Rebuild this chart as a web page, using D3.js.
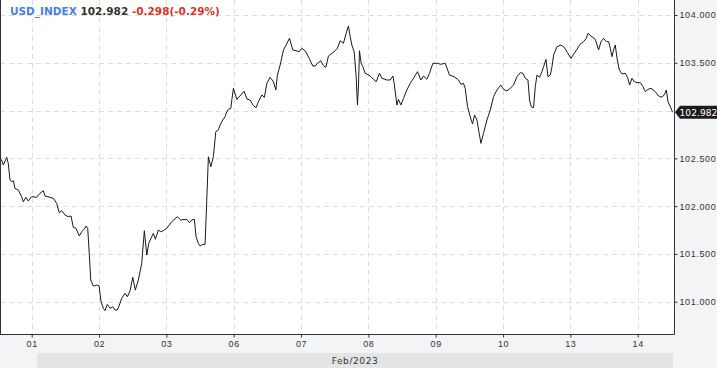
<!DOCTYPE html>
<html>
<head>
<meta charset="utf-8">
<script src="https://cdn.jsdelivr.net/npm/d3@7"></script>
<style>
  html, body { margin: 0; padding: 0; background: #f3f4f6; }
  svg { display: block; font-family: "DejaVu Sans", sans-serif; }
  .axis text { fill: #333; font-size: 9px; letter-spacing: 0.6px; }
</style>
</head>
<body>
<svg id="chart" width="717" height="368"></svg>
<script>
// trading-day index (0 = Feb 01) and index value
const times = [
  -0.471, -0.446, -0.422, -0.371, -0.348, -0.322, -0.297, -0.273, -0.248, -0.199,
  -0.149, -0.125, -0.085, -0.051, 0, 0.074, 0.123, 0.172, 0.198, 0.272,
  0.321, 0.371, 0.410, 0.446, 0.495, 0.544, 0.584, 0.618, 0.658, 0.707,
  0.743, 0.777, 0.807, 0.832, 0.856, 0.877, 0.915, 0.966, 1.000, 1.030,
  1.064, 1.089, 1.123, 1.163, 1.204, 1.238, 1.272, 1.302, 1.337, 1.386,
  1.421, 1.461, 1.501, 1.539, 1.584, 1.634, 1.673, 1.709, 1.739, 1.783,
  1.807, 1.837, 1.881, 1.917, 1.955, 2.006, 2.080, 2.163, 2.214, 2.278,
  2.312, 2.342, 2.377, 2.416, 2.441, 2.475, 2.501, 2.541, 2.575, 2.600,
  2.624, 2.660, 2.698, 2.734, 2.773, 2.798, 2.838, 2.872, 2.898, 2.921,
  2.957, 2.972, 2.996, 3.046, 3.106, 3.155, 3.195, 3.244, 3.293, 3.333,
  3.367, 3.418, 3.456, 3.492, 3.541, 3.590, 3.626, 3.649, 3.690, 3.739,
  3.779, 3.828, 3.878, 3.927, 3.976, 4.012, 4.071, 4.120, 4.175, 4.210,
  4.244, 4.294, 4.333, 4.369, 4.407, 4.458, 4.507, 4.541, 4.581, 4.630,
  4.670, 4.704, 4.730, 4.755, 4.789, 4.819, 4.838, 4.853, 4.868, 4.893,
  4.918, 4.953, 5.027, 5.076, 5.116, 5.165, 5.201, 5.275, 5.324, 5.364,
  5.383, 5.424, 5.447, 5.483, 5.522, 5.572, 5.621, 5.670, 5.730, 5.780,
  5.819, 5.869, 5.908, 5.958, 6.018, 6.077, 6.141, 6.205, 6.275, 6.339,
  6.374, 6.413, 6.438, 6.473, 6.513, 6.547, 6.577, 6.612, 6.646, 6.672,
  6.710, 6.761, 6.810, 6.859, 6.909, 6.969, 7.008, 7.058, 7.107, 7.156,
  7.207, 7.256, 7.296, 7.330, 7.370, 7.394, 7.419, 7.453, 7.479, 7.504,
  7.542, 7.578, 7.602, 7.638, 7.667, 7.702, 7.727, 7.751, 7.801, 7.860,
  7.909, 7.958, 8.009, 8.048, 8.098, 8.147, 8.196, 8.236, 8.262, 8.306,
  8.370, 8.419, 8.455, 8.493, 8.534, 8.568, 8.593, 8.618, 8.642, 8.667,
  8.693, 8.727, 8.767, 8.816, 8.850, 8.880, 8.915, 8.950, 8.990, 9.039,
  9.079, 9.113, 9.153, 9.198, 9.262, 9.311, 9.361, 9.400, 9.425, 9.450,
  9.485, 9.510, 9.514
];
const values = [
  102.500, 102.483, 102.430, 102.511, 102.448, 102.273, 102.256, 102.266, 102.186, 102.169,
  102.099, 102.046, 102.092, 102.054, 102.099, 102.092, 102.134, 102.161, 102.106, 102.092,
  102.082, 102.029, 101.931, 101.952, 101.907, 101.889, 101.897, 101.778, 101.768, 101.687,
  101.732, 101.757, 101.792, 101.768, 101.488, 101.227, 101.164, 101.174, 101.167, 101.000,
  100.931, 100.906, 100.972, 100.931, 100.947, 100.913, 100.913, 100.965, 101.035, 101.088,
  101.052, 101.115, 101.255, 101.122, 101.227, 101.402, 101.743, 101.488, 101.611, 101.680,
  101.715, 101.653, 101.750, 101.732, 101.743, 101.768, 101.837, 101.889, 101.855, 101.862,
  101.855, 101.826, 101.855, 101.862, 101.680, 101.611, 101.583, 101.600, 101.600, 102.064,
  102.517, 102.412, 102.517, 102.779, 102.797, 102.849, 102.901, 102.936, 102.988, 103.013,
  103.024, 103.110, 103.233, 103.118, 103.163, 103.202, 103.121, 103.110, 103.051, 103.030,
  103.093, 103.163, 103.139, 103.285, 103.348, 103.302, 103.215, 103.372, 103.477, 103.634,
  103.686, 103.756, 103.634, 103.626, 103.616, 103.652, 103.616, 103.547, 103.466, 103.466,
  103.495, 103.522, 103.469, 103.453, 103.571, 103.599, 103.626, 103.652, 103.731, 103.704,
  103.808, 103.885, 103.773, 103.686, 103.616, 103.354, 103.058, 103.267, 103.626, 103.495,
  103.459, 103.390, 103.362, 103.327, 103.302, 103.390, 103.338, 103.320, 103.320, 103.362,
  103.285, 103.058, 103.118, 103.058, 103.128, 103.215, 103.285, 103.338, 103.407, 103.320,
  103.362, 103.327, 103.390, 103.495, 103.495, 103.484, 103.495, 103.372, 103.354, 103.320,
  103.275, 103.285, 103.233, 103.040, 102.936, 102.859, 102.954, 102.901, 102.762, 102.657,
  102.762, 102.901, 103.006, 103.145, 103.215, 103.267, 103.222, 103.205, 103.233, 103.267,
  103.354, 103.396, 103.390, 103.338, 103.320, 103.110, 103.040, 103.030, 103.250, 103.372,
  103.348, 103.407, 103.459, 103.536, 103.354, 103.372, 103.459, 103.581, 103.668, 103.686,
  103.662, 103.605, 103.547, 103.589, 103.641, 103.697, 103.721, 103.756, 103.808, 103.780,
  103.746, 103.634, 103.721, 103.756, 103.721, 103.721, 103.652, 103.564, 103.634, 103.686,
  103.547, 103.424, 103.383, 103.390, 103.348, 103.267, 103.338, 103.302, 103.292, 103.292,
  103.250, 103.197, 103.222, 103.233, 103.197, 103.152, 103.139, 103.173, 103.215, 103.093,
  103.040, 102.999, 102.982
];
const dayLabels = ['01', '02', '03', '06', '07', '08', '09', '10', '13', '14'];
const gridTicks = [101.0, 101.5, 102.0, 102.5, 103.0, 103.5, 104.0];
const priceTicks = [101.0, 101.5, 102.0, 102.5, 103.5, 104.0]; // 103.000 sits under the price tag
const symbol = 'USD_INDEX';
const lastPrice = 102.982;
const change = -0.298;
const changePct = -0.29;
const monthLabel = 'Feb/2023';

const plot = { l: 0, t: 0, r: 674, b: 334 };

const svg = d3.select('#chart');
const x = d3.scaleLinear().domain([0, 9]).range([31.7, 637.7]);
const y = d3.scaleLinear().domain([101, 104]).range([301.7, 15]);

// plot background
svg.append('rect').attr('x', plot.l).attr('y', plot.t)
  .attr('width', plot.r - plot.l).attr('height', plot.b - plot.t).attr('fill', '#fff');

// grid
const grid = svg.append('g').attr('stroke', '#dedede').attr('stroke-dasharray', '5,4');
grid.selectAll('line.v').data(d3.range(dayLabels.length)).join('line')
  .attr('x1', d => Math.round(x(d)) + 0.5).attr('x2', d => Math.round(x(d)) + 0.5)
  .attr('y1', plot.t).attr('y2', plot.b);
grid.selectAll('line.h').data(gridTicks).join('line')
  .attr('x1', plot.l).attr('x2', plot.r)
  .attr('y1', d => Math.round(y(d)) + 0.5).attr('y2', d => Math.round(y(d)) + 0.5);

// bottom strip with month label
svg.append('rect').attr('x', 37).attr('y', 353).attr('width', 636).attr('height', 15).attr('fill', '#e3e4e6');
svg.append('text').attr('x', 355).attr('y', 364).attr('text-anchor', 'middle')
  .attr('font-size', 9).attr('fill', '#333').attr('letter-spacing', 0.6).text(monthLabel);

// price line
const line = d3.line().x((d, i) => x(times[i])).y(d => y(d));
svg.append('path').datum(values)
  .attr('fill', 'none').attr('stroke', '#1a1a1a').attr('stroke-width', 1)
  .attr('stroke-linejoin', 'round').attr('d', line);

// axes
const xAxis = svg.append('g').attr('class', 'axis').attr('transform', `translate(0,${plot.b + 0.5})`)
  .call(d3.axisBottom(x).tickValues(d3.range(dayLabels.length)).tickFormat(i => dayLabels[i])
    .tickSize(3).tickSizeOuter(0).tickPadding(3));
xAxis.select('.domain').attr('d', `M${plot.l},0H${plot.r + 0.5}`).attr('stroke', '#333');
xAxis.selectAll('.tick line').attr('stroke', '#333');

const yAxis = svg.append('g').attr('class', 'axis').attr('transform', `translate(${plot.r + 0.5},0)`)
  .call(d3.axisRight(y).tickValues(priceTicks).tickFormat(d3.format('.3f'))
    .tickSize(3).tickSizeOuter(0).tickPadding(2));
yAxis.select('.domain').attr('d', `M0,${plot.t}V${plot.b + 0.5}`).attr('stroke', '#333');
yAxis.selectAll('.tick line').attr('stroke', '#333');

// left border
svg.append('line').attr('x1', 0.5).attr('x2', 0.5).attr('y1', plot.t).attr('y2', plot.b)
  .attr('stroke', '#333');

// last price tag
const ty = y(lastPrice);
const tag = svg.append('g').attr('transform', `translate(${plot.r + 1},${ty})`);
tag.append('path').attr('d', 'M0,0L5,-6.5H43V6.5H5Z').attr('fill', '#1c1c1c');
tag.append('text').attr('x', 4.5).attr('y', 3.5).attr('font-size', 9).attr('fill', '#fff')
  .attr('letter-spacing', 0.1).text(lastPrice.toFixed(3));

// title
const title = svg.append('text').attr('x', 10).attr('y', 15).attr('font-size', 10.5).attr('font-weight', 'bold');
title.append('tspan').attr('fill', '#4a80e8').text(symbol + ' ');
title.append('tspan').attr('fill', '#333').text(lastPrice.toFixed(3) + ' ');
title.append('tspan').attr('fill', '#e0341c')
  .text(`${change.toFixed(3)}(${changePct.toFixed(2)}%)`);
</script>
</body>
</html>
